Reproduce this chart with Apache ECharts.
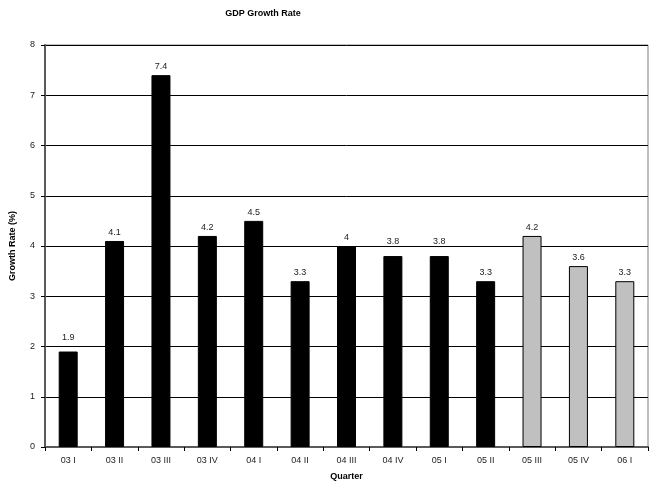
<!DOCTYPE html>
<html>
<head>
<meta charset="utf-8">
<script src="https://cdn.jsdelivr.net/npm/echarts@6/dist/echarts.min.js"></script>
<style>
  html, body { margin: 0; padding: 0; background: #fff; }
  #chart { width: 658px; height: 486px; }
</style>
</head>
<body>
<div id="chart"></div>
<script>
// Quarterly GDP growth, actual quarters then forecast quarters
const quarters = ['03 I', '03 II', '03 III', '03 IV', '04 I', '04 II', '04 III', '04 IV', '05 I', '05 II', '05 III', '05 IV', '06 I'];
const growthRates = [1.9, 4.1, 7.4, 4.2, 4.5, 3.3, 4.0, 3.8, 3.8, 3.3, 4.2, 3.6, 3.3];
const isForecast = [false, false, false, false, false, false, false, false, false, false, true, true, true];
const yTicks = [0, 1, 2, 3, 4, 5, 6, 7, 8];

const FONT = 'Liberation Sans, Arial, sans-serif';

// Lift a value label clear of the gridline just above the bar top
function labelDistance(v) {
  const frac = v - Math.floor(v);
  return (frac > 0.7 && frac < 0.95) ? 10 : 4;
}

const chart = echarts.init(document.getElementById('chart'), null, { renderer: 'canvas' });

chart.setOption({
  animation: false,
  backgroundColor: '#ffffff',
  title: {
    text: 'GDP Growth Rate',
    left: 258,
    top: 4,
    textAlign: 'center',
    textStyle: { fontFamily: FONT, fontSize: 9, fontWeight: 'bold', color: '#000' }
  },
  grid: {
    left: 42, right: 10, top: 45, bottom: 34,
    show: true,
    borderColor: '#808080',
    borderWidth: 1,
    backgroundColor: 'transparent'
  },
  xAxis: {
    type: 'category',
    data: quarters,
    name: 'Quarter',
    nameLocation: 'middle',
    nameGap: 25,
    nameTextStyle: { fontFamily: FONT, fontSize: 9, fontWeight: 'bold', color: '#000' },
    axisLine: { lineStyle: { color: '#5a5a5a', width: 2 } },
    axisTick: { show: true, inside: false, length: 4, alignWithLabel: false, lineStyle: { color: '#000', width: 1 } },
    axisLabel: { fontFamily: FONT, fontSize: 9, color: '#222', margin: 9 },
    splitLine: { show: false }
  },
  yAxis: {
    type: 'value',
    min: yTicks[0],
    max: yTicks[yTicks.length - 1],
    interval: 1,
    name: 'Growth Rate (%)',
    nameLocation: 'middle',
    nameGap: 28,
    nameTextStyle: { fontFamily: FONT, fontSize: 9, fontWeight: 'bold', color: '#000' },
    axisLine: { show: true, lineStyle: { color: '#5a5a5a', width: 2 } },
    axisTick: { show: true, inside: false, length: 4, lineStyle: { color: '#000', width: 1 } },
    axisLabel: { fontFamily: FONT, fontSize: 9, color: '#222', margin: 10 },
    splitLine: { show: true, lineStyle: { color: '#000', width: 1 } }
  },
  series: [{
    type: 'bar',
    barWidth: 19,
    data: growthRates.map((v, i) => ({
      value: v,
      itemStyle: isForecast[i]
        ? { color: '#c0c0c0', borderColor: '#000', borderWidth: 1 }
        : { color: '#000', borderColor: '#000', borderWidth: 1 },
      label: { distance: labelDistance(v) }
    })),
    label: {
      show: true,
      position: 'top',
      fontFamily: FONT,
      fontSize: 9,
      color: '#222',
      formatter: p => String(p.value)
    }
  }]
});
</script>
</body>
</html>
